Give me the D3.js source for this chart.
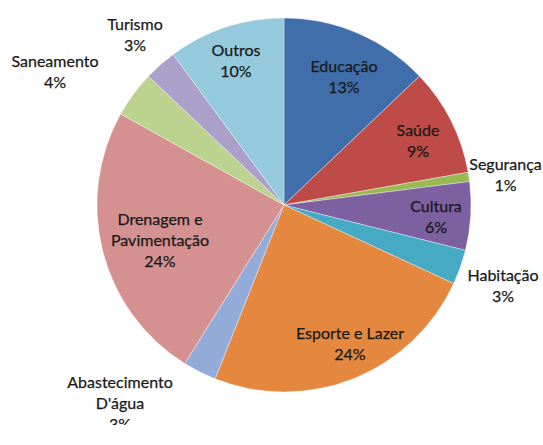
<!DOCTYPE html>
<html><head><meta charset="utf-8">
<script src="https://cdn.jsdelivr.net/npm/d3@7"></script>
<style>body{margin:0;background:#fff}svg{display:block}</style>
</head><body>
<script>
const categories = ["Educação","Saúde","Segurança","Cultura","Habitação","Esporte e Lazer","Abastecimento D'água","Drenagem e Pavimentação","Saneamento","Turismo","Outros"];
const values = [12.9, 9.3, 0.8, 5.9, 3.0, 24.1, 2.9, 24.2, 4.0, 2.8, 10.1];
const labelLines = [["Educação"],["Saúde"],["Segurança"],["Cultura"],["Habitação"],["Esporte e Lazer"],["Abastecimento","D'água"],["Drenagem e","Pavimentação"],["Saneamento"],["Turismo"],["Outros"]];
const colors = ["#3F6EAA","#BE4B48","#98B954","#7D60A0","#46AAC5","#E4873F","#92ABD8","#D49190","#BBD38F","#ABA0CA","#94CADC"];
// label anchor positions (center of text block)
const labelPos = [[344,77],[418,141],[505.5,175],[436,217],[503,286],[350,344],[120,403],[160,240],[55,72],[135,35],[236,61]];

const W=543,H=445,cx=284,cy=205,R=187;
const svg=d3.select("body").append("svg").attr("width",W).attr("height",H);
svg.append("defs").append("clipPath").attr("id","clip").append("rect").attr("x",0).attr("y",0).attr("width",W).attr("height",425);
const root=svg.append("g").attr("clip-path","url(#clip)");
const pie=d3.pie().sort(null).value(d=>d);
const arcs=pie(values);
const arc=d3.arc().innerRadius(0).outerRadius(R);
const g=root.append("g").attr("transform",`translate(${cx},${cy})`);
g.selectAll("path").data(arcs).join("path").attr("d",arc).attr("fill",(d,i)=>colors[i]).attr("stroke","#fff").attr("stroke-width",0.6).attr("stroke-opacity",0.6);

const lh=21;
labelLines.forEach((lines,i)=>{
  const all=lines.concat([Math.round(values[i])+"%"]);
  const [x,y]=labelPos[i];
  const t=root.append("text").attr("x",x).attr("text-anchor","middle").attr("font-family","Lato, 'Open Sans', sans-serif").attr("font-size","16px").attr("fill","#1a1a1a").attr("stroke","#1a1a1a").attr("stroke-width",0.25);
  all.forEach((s,k)=>{
    t.append("tspan").attr("x",x).attr("y",y-(all.length-1)*lh/2+k*lh+5.5).text(s);
  });
});
</script>
</body></html>
